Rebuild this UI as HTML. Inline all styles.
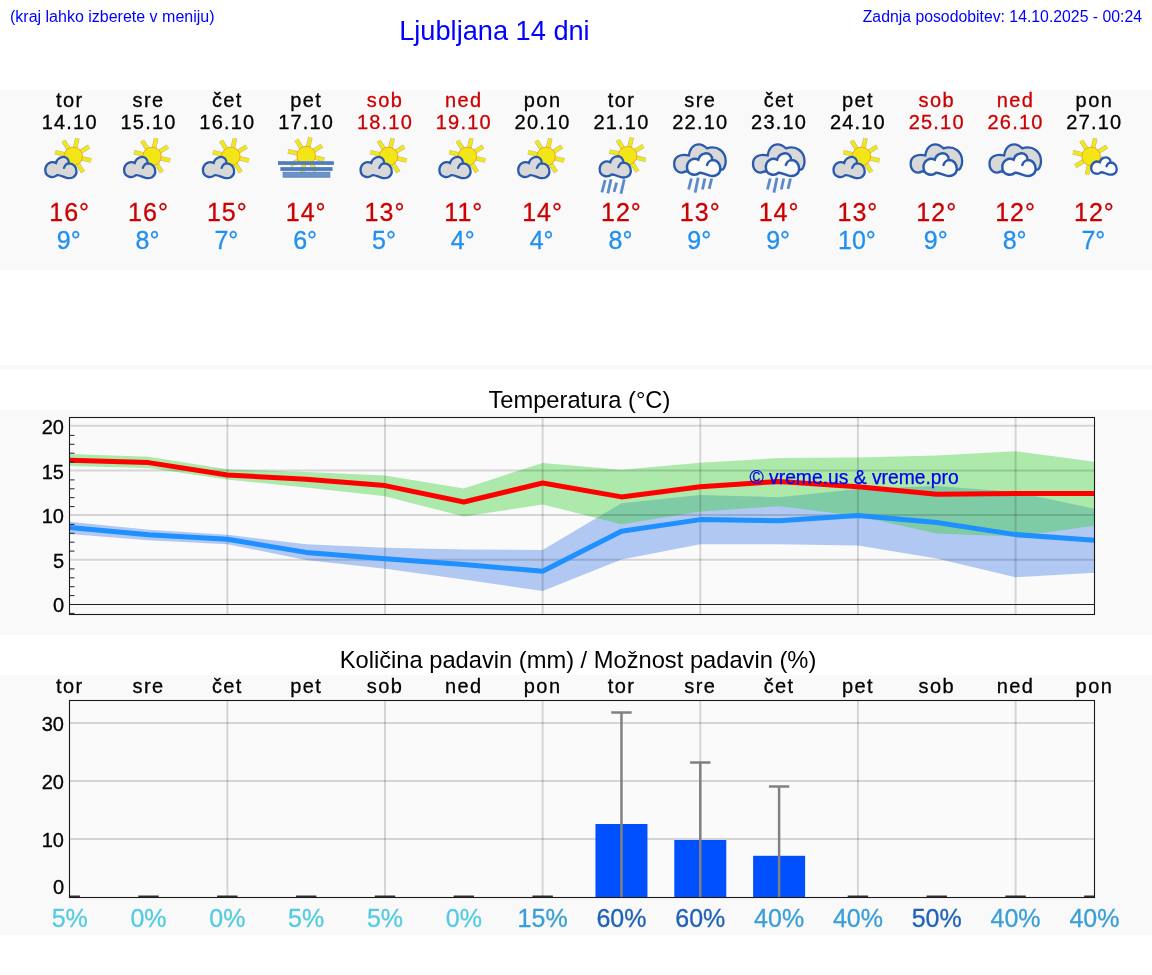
<!DOCTYPE html><html><head><meta charset="utf-8"><style>
html,body{margin:0;padding:0;background:#fff;}
body{width:1152px;height:975px;overflow:hidden;position:relative;font-family:"Liberation Sans", sans-serif;}
svg{position:absolute;left:0;top:0;will-change:transform;}
</style></head><body>
<svg width="1152" height="975" viewBox="0 0 1152 975" font-family='"Liberation Sans", sans-serif'>
<defs>
<g id="sun"><path d="M1.91 -8.28L4.18 -18.12M7.21 -4.50L15.77 -9.86M8.28 1.91L18.12 4.18M4.50 7.21L9.86 15.77M-1.91 8.28L-4.18 18.12M-7.21 4.50L-15.77 9.86M-8.28 -1.91L-18.12 -4.18M-4.50 -7.21L-9.86 -15.77" stroke="#8a8a78" stroke-width="4.6" stroke-linecap="butt" opacity="0.6"/><path d="M1.91 -8.28L4.18 -18.12M7.21 -4.50L15.77 -9.86M8.28 1.91L18.12 4.18M4.50 7.21L9.86 15.77M-1.91 8.28L-4.18 18.12M-7.21 4.50L-15.77 9.86M-8.28 -1.91L-18.12 -4.18M-4.50 -7.21L-9.86 -15.77" stroke="#f2e816" stroke-width="3.5" stroke-linecap="butt"/><circle r="9.25" fill="#f2e616" stroke="#f4a424" stroke-width="1"/></g>
<g id="cloudA"><path d="M-12.5 175.2 C-16.5 178.6,-24.4 177.2,-24.4 170 C-24.4 163.8,-18.5 160.5,-13.8 163.0 C-12.5 157.5,-6 155.3,-2.5 158.5 C-1.2 159.8,-0.6 161.5,-0.9 163.3 C4 163.2,6.8 167,6.8 171.8 C6.6 177,1.5 178.9,-3 177.9 C-6 177.2,-9.5 174.9,-12.5 175.2 Z" fill="#d8d8d8" stroke="#2a5aae" stroke-width="2.3"/><path d="M-5.7 167.9 C-4.5 164.8,-2 163.3,-0.6 163.4" fill="none" stroke="#2a5aae" stroke-width="2.3" stroke-linecap="round"/></g>
<g id="cloudW"><path d="M-12.5 175.2 C-16.5 178.6,-24.4 177.2,-24.4 170 C-24.4 163.8,-18.5 160.5,-13.8 163.0 C-12.5 157.5,-6 155.3,-2.5 158.5 C-1.2 159.8,-0.6 161.5,-0.9 163.3 C4 163.2,6.8 167,6.8 171.8 C6.6 177,1.5 178.9,-3 177.9 C-6 177.2,-9.5 174.9,-12.5 175.2 Z" fill="#fafafa" stroke="#2a5aae" stroke-width="2.3"/><path d="M-5.7 167.9 C-4.5 164.8,-2 163.3,-0.6 163.4" fill="none" stroke="#2a5aae" stroke-width="2.3" stroke-linecap="round"/></g>
<g id="cloudWs" transform="translate(16.77,28.6) scale(0.82)"><path d="M-12.5 175.2 C-16.5 178.6,-24.4 177.2,-24.4 170 C-24.4 163.8,-18.5 160.5,-13.8 163.0 C-12.5 157.5,-6 155.3,-2.5 158.5 C-1.2 159.8,-0.6 161.5,-0.9 163.3 C4 163.2,6.8 167,6.8 171.8 C6.6 177,1.5 178.9,-3 177.9 C-6 177.2,-9.5 174.9,-12.5 175.2 Z" fill="#fafafa" stroke="#2a5aae" stroke-width="2.8"/><path d="M-5.7 167.9 C-4.5 164.8,-2 163.3,-0.6 163.4" fill="none" stroke="#2a5aae" stroke-width="2.8" stroke-linecap="round"/></g>
<g id="cloudBack"><path d="M-14.8 171.3 C-19 174.3,-26.1 172,-26.1 163.5 C-26 157,-20 153.5,-11.5 155.5 C-10 145,-1.5 140.5,6.8 148.3 C17.5 145,25.4 152,25.4 161 C25.4 165,24.5 167.5,22.5 169.5 L10 172 Z" fill="#d8d8d8" stroke="#2a5aae" stroke-width="2.3"/></g>
</defs>
<rect x="0" y="90" width="1152" height="180" fill="#f9f9f9"/>
<rect x="0" y="365" width="1152" height="5" fill="#f9f9f9"/>
<rect x="0" y="410" width="1152" height="225" fill="#f9f9f9"/>
<rect x="0" y="675" width="1152" height="260" fill="#f9f9f9"/>
<text x="10" y="21.8" font-size="16" fill="#0000ff">(kraj lahko izberete v meniju)</text>
<text x="399.2" y="39.8" font-size="27.2" fill="#0000ff">Ljubljana 14 dni</text>
<text x="1142" y="22.1" font-size="15.8" fill="#0000ff" text-anchor="end">Zadnja posodobitev: 14.10.2025 - 00:24</text>
<text x="69.70" y="106.9" font-size="20" fill="#000000" stroke="#000000" stroke-width="0.3" text-anchor="middle" letter-spacing="1.4">tor</text>
<text x="69.70" y="128.9" font-size="20" fill="#000000" stroke="#000000" stroke-width="0.3" text-anchor="middle" letter-spacing="1.2">14.10</text>
<text x="69.70" y="221" font-size="25" fill="#cc0000" stroke="#cc0000" stroke-width="0.3" text-anchor="middle" letter-spacing="1">16°</text>
<text x="68.70" y="249" font-size="25" fill="#2090ef" stroke="#2090ef" stroke-width="0.3" text-anchor="middle">9°</text>
<text x="148.52" y="106.9" font-size="20" fill="#000000" stroke="#000000" stroke-width="0.3" text-anchor="middle" letter-spacing="1.4">sre</text>
<text x="148.52" y="128.9" font-size="20" fill="#000000" stroke="#000000" stroke-width="0.3" text-anchor="middle" letter-spacing="1.2">15.10</text>
<text x="148.52" y="221" font-size="25" fill="#cc0000" stroke="#cc0000" stroke-width="0.3" text-anchor="middle" letter-spacing="1">16°</text>
<text x="147.52" y="249" font-size="25" fill="#2090ef" stroke="#2090ef" stroke-width="0.3" text-anchor="middle">8°</text>
<text x="227.35" y="106.9" font-size="20" fill="#000000" stroke="#000000" stroke-width="0.3" text-anchor="middle" letter-spacing="1.4">čet</text>
<text x="227.35" y="128.9" font-size="20" fill="#000000" stroke="#000000" stroke-width="0.3" text-anchor="middle" letter-spacing="1.2">16.10</text>
<text x="227.35" y="221" font-size="25" fill="#cc0000" stroke="#cc0000" stroke-width="0.3" text-anchor="middle" letter-spacing="1">15°</text>
<text x="226.35" y="249" font-size="25" fill="#2090ef" stroke="#2090ef" stroke-width="0.3" text-anchor="middle">7°</text>
<text x="306.17" y="106.9" font-size="20" fill="#000000" stroke="#000000" stroke-width="0.3" text-anchor="middle" letter-spacing="1.4">pet</text>
<text x="306.17" y="128.9" font-size="20" fill="#000000" stroke="#000000" stroke-width="0.3" text-anchor="middle" letter-spacing="1.2">17.10</text>
<text x="306.17" y="221" font-size="25" fill="#cc0000" stroke="#cc0000" stroke-width="0.3" text-anchor="middle" letter-spacing="1">14°</text>
<text x="305.17" y="249" font-size="25" fill="#2090ef" stroke="#2090ef" stroke-width="0.3" text-anchor="middle">6°</text>
<text x="384.99" y="106.9" font-size="20" fill="#cc0000" stroke="#cc0000" stroke-width="0.3" text-anchor="middle" letter-spacing="1.4">sob</text>
<text x="384.99" y="128.9" font-size="20" fill="#cc0000" stroke="#cc0000" stroke-width="0.3" text-anchor="middle" letter-spacing="1.2">18.10</text>
<text x="384.99" y="221" font-size="25" fill="#cc0000" stroke="#cc0000" stroke-width="0.3" text-anchor="middle" letter-spacing="1">13°</text>
<text x="383.99" y="249" font-size="25" fill="#2090ef" stroke="#2090ef" stroke-width="0.3" text-anchor="middle">5°</text>
<text x="463.82" y="106.9" font-size="20" fill="#cc0000" stroke="#cc0000" stroke-width="0.3" text-anchor="middle" letter-spacing="1.4">ned</text>
<text x="463.82" y="128.9" font-size="20" fill="#cc0000" stroke="#cc0000" stroke-width="0.3" text-anchor="middle" letter-spacing="1.2">19.10</text>
<text x="463.82" y="221" font-size="25" fill="#cc0000" stroke="#cc0000" stroke-width="0.3" text-anchor="middle" letter-spacing="1">11°</text>
<text x="462.82" y="249" font-size="25" fill="#2090ef" stroke="#2090ef" stroke-width="0.3" text-anchor="middle">4°</text>
<text x="542.64" y="106.9" font-size="20" fill="#000000" stroke="#000000" stroke-width="0.3" text-anchor="middle" letter-spacing="1.4">pon</text>
<text x="542.64" y="128.9" font-size="20" fill="#000000" stroke="#000000" stroke-width="0.3" text-anchor="middle" letter-spacing="1.2">20.10</text>
<text x="542.64" y="221" font-size="25" fill="#cc0000" stroke="#cc0000" stroke-width="0.3" text-anchor="middle" letter-spacing="1">14°</text>
<text x="541.64" y="249" font-size="25" fill="#2090ef" stroke="#2090ef" stroke-width="0.3" text-anchor="middle">4°</text>
<text x="621.46" y="106.9" font-size="20" fill="#000000" stroke="#000000" stroke-width="0.3" text-anchor="middle" letter-spacing="1.4">tor</text>
<text x="621.46" y="128.9" font-size="20" fill="#000000" stroke="#000000" stroke-width="0.3" text-anchor="middle" letter-spacing="1.2">21.10</text>
<text x="621.46" y="221" font-size="25" fill="#cc0000" stroke="#cc0000" stroke-width="0.3" text-anchor="middle" letter-spacing="1">12°</text>
<text x="620.46" y="249" font-size="25" fill="#2090ef" stroke="#2090ef" stroke-width="0.3" text-anchor="middle">8°</text>
<text x="700.28" y="106.9" font-size="20" fill="#000000" stroke="#000000" stroke-width="0.3" text-anchor="middle" letter-spacing="1.4">sre</text>
<text x="700.28" y="128.9" font-size="20" fill="#000000" stroke="#000000" stroke-width="0.3" text-anchor="middle" letter-spacing="1.2">22.10</text>
<text x="700.28" y="221" font-size="25" fill="#cc0000" stroke="#cc0000" stroke-width="0.3" text-anchor="middle" letter-spacing="1">13°</text>
<text x="699.28" y="249" font-size="25" fill="#2090ef" stroke="#2090ef" stroke-width="0.3" text-anchor="middle">9°</text>
<text x="779.11" y="106.9" font-size="20" fill="#000000" stroke="#000000" stroke-width="0.3" text-anchor="middle" letter-spacing="1.4">čet</text>
<text x="779.11" y="128.9" font-size="20" fill="#000000" stroke="#000000" stroke-width="0.3" text-anchor="middle" letter-spacing="1.2">23.10</text>
<text x="779.11" y="221" font-size="25" fill="#cc0000" stroke="#cc0000" stroke-width="0.3" text-anchor="middle" letter-spacing="1">14°</text>
<text x="778.11" y="249" font-size="25" fill="#2090ef" stroke="#2090ef" stroke-width="0.3" text-anchor="middle">9°</text>
<text x="857.93" y="106.9" font-size="20" fill="#000000" stroke="#000000" stroke-width="0.3" text-anchor="middle" letter-spacing="1.4">pet</text>
<text x="857.93" y="128.9" font-size="20" fill="#000000" stroke="#000000" stroke-width="0.3" text-anchor="middle" letter-spacing="1.2">24.10</text>
<text x="857.93" y="221" font-size="25" fill="#cc0000" stroke="#cc0000" stroke-width="0.3" text-anchor="middle" letter-spacing="1">13°</text>
<text x="856.93" y="249" font-size="25" fill="#2090ef" stroke="#2090ef" stroke-width="0.3" text-anchor="middle">10°</text>
<text x="936.75" y="106.9" font-size="20" fill="#cc0000" stroke="#cc0000" stroke-width="0.3" text-anchor="middle" letter-spacing="1.4">sob</text>
<text x="936.75" y="128.9" font-size="20" fill="#cc0000" stroke="#cc0000" stroke-width="0.3" text-anchor="middle" letter-spacing="1.2">25.10</text>
<text x="936.75" y="221" font-size="25" fill="#cc0000" stroke="#cc0000" stroke-width="0.3" text-anchor="middle" letter-spacing="1">12°</text>
<text x="935.75" y="249" font-size="25" fill="#2090ef" stroke="#2090ef" stroke-width="0.3" text-anchor="middle">9°</text>
<text x="1015.58" y="106.9" font-size="20" fill="#cc0000" stroke="#cc0000" stroke-width="0.3" text-anchor="middle" letter-spacing="1.4">ned</text>
<text x="1015.58" y="128.9" font-size="20" fill="#cc0000" stroke="#cc0000" stroke-width="0.3" text-anchor="middle" letter-spacing="1.2">26.10</text>
<text x="1015.58" y="221" font-size="25" fill="#cc0000" stroke="#cc0000" stroke-width="0.3" text-anchor="middle" letter-spacing="1">12°</text>
<text x="1014.58" y="249" font-size="25" fill="#2090ef" stroke="#2090ef" stroke-width="0.3" text-anchor="middle">8°</text>
<text x="1094.40" y="106.9" font-size="20" fill="#000000" stroke="#000000" stroke-width="0.3" text-anchor="middle" letter-spacing="1.4">pon</text>
<text x="1094.40" y="128.9" font-size="20" fill="#000000" stroke="#000000" stroke-width="0.3" text-anchor="middle" letter-spacing="1.2">27.10</text>
<text x="1094.40" y="221" font-size="25" fill="#cc0000" stroke="#cc0000" stroke-width="0.3" text-anchor="middle" letter-spacing="1">12°</text>
<text x="1093.40" y="249" font-size="25" fill="#2090ef" stroke="#2090ef" stroke-width="0.3" text-anchor="middle">7°</text>
<g transform="translate(69.70,0)"><use href="#sun" x="3.5" y="156.4"/><use href="#cloudA"/></g>
<g transform="translate(148.52,0)"><use href="#sun" x="3.5" y="156.4"/><use href="#cloudA"/></g>
<g transform="translate(227.35,0)"><use href="#sun" x="3.5" y="156.4"/><use href="#cloudA"/></g>
<g transform="translate(306.17,0)"><use href="#sun" x="0" y="155.5"/><rect x="-28.2" y="161.2" width="55.9" height="3.7" fill="#4f7cbf"/><rect x="-25.8" y="167.1" width="52.2" height="3.8" fill="#4f7cbf"/><rect x="-23.1" y="172.2" width="46.8" height="5" fill="#6d93c6" stroke="#4f7cbf" stroke-width="0.8"/></g>
<g transform="translate(384.99,0)"><use href="#sun" x="3.5" y="156.4"/><use href="#cloudA"/></g>
<g transform="translate(463.82,0)"><use href="#sun" x="3.5" y="156.4"/><use href="#cloudA"/></g>
<g transform="translate(542.64,0)"><use href="#sun" x="3.5" y="156.4"/><use href="#cloudA"/></g>
<g transform="translate(624.06,-0.7)"><use href="#sun" x="3.5" y="156.4"/><use href="#cloudA"/></g>
<line x1="605.16" y1="180" x2="601.86" y2="192.4" stroke="#4a7cc4" stroke-width="2.8" stroke-opacity="0.9"/><line x1="611.06" y1="179.3" x2="607.86" y2="193.4" stroke="#4a7cc4" stroke-width="2.8" stroke-opacity="0.9"/><line x1="616.66" y1="182.6" x2="614.06" y2="191.8" stroke="#4a7cc4" stroke-width="2.8" stroke-opacity="0.9"/><line x1="624.26" y1="179.3" x2="620.96" y2="193.75" stroke="#4a7cc4" stroke-width="2.8" stroke-opacity="0.9"/>
<g transform="translate(700.28,0)"><use href="#cloudBack"/><g transform="translate(3.4,164.35) scale(1.07) translate(8.8,-167.35)"><use href="#cloudW"/></g></g>
<line x1="691.38" y1="178.5" x2="688.58" y2="189.5" stroke="#4a7cc4" stroke-width="2.8" stroke-opacity="0.9"/><line x1="698.18" y1="177.8" x2="695.08" y2="192.6" stroke="#4a7cc4" stroke-width="2.8" stroke-opacity="0.9"/><line x1="704.88" y1="178.5" x2="702.48" y2="189.5" stroke="#4a7cc4" stroke-width="2.8" stroke-opacity="0.9"/><line x1="711.68" y1="178.5" x2="709.18" y2="188.9" stroke="#4a7cc4" stroke-width="2.8" stroke-opacity="0.9"/>
<g transform="translate(779.11,0)"><use href="#cloudBack"/><g transform="translate(3.4,164.35) scale(1.07) translate(8.8,-167.35)"><use href="#cloudW"/></g></g>
<line x1="770.21" y1="178.5" x2="767.41" y2="189.5" stroke="#4a7cc4" stroke-width="2.8" stroke-opacity="0.9"/><line x1="777.01" y1="177.8" x2="773.91" y2="192.6" stroke="#4a7cc4" stroke-width="2.8" stroke-opacity="0.9"/><line x1="783.71" y1="178.5" x2="781.31" y2="189.5" stroke="#4a7cc4" stroke-width="2.8" stroke-opacity="0.9"/><line x1="790.51" y1="178.5" x2="788.01" y2="188.9" stroke="#4a7cc4" stroke-width="2.8" stroke-opacity="0.9"/>
<g transform="translate(857.93,0)"><use href="#sun" x="3.5" y="156.4"/><use href="#cloudA"/></g>
<g transform="translate(936.75,0)"><use href="#cloudBack"/><g transform="translate(3.4,164.35) scale(1.07) translate(8.8,-167.35)"><use href="#cloudW"/></g></g>
<g transform="translate(1015.58,0)"><use href="#cloudBack"/><g transform="translate(3.4,164.35) scale(1.07) translate(8.8,-167.35)"><use href="#cloudW"/></g></g>
<g transform="translate(1094.40,0)"><use href="#sun" x="-3.3" y="156.4"/><use href="#cloudWs"/></g>
<text x="579.4" y="407.8" font-size="23.7" fill="#000" text-anchor="middle">Temperatura (°C)</text>
<rect x="69.5" y="417.5" width="1025.0" height="197.0" fill="#fafafa"/>
<polygon points="69.70,521.80 148.52,529.80 227.35,534.80 306.17,544.20 384.99,547.70 463.82,549.60 542.64,550.00 621.46,503.20 700.28,495.00 779.11,497.30 857.93,489.10 936.75,486.00 1015.58,492.00 1094.40,508.70 1094.40,572.70 1015.58,577.20 936.75,558.50 857.93,545.40 779.11,544.20 700.28,544.20 621.46,559.40 542.64,591.00 463.82,579.40 384.99,568.80 306.17,560.00 227.35,544.30 148.52,540.30 69.70,534.00" fill="#417de6" fill-opacity="0.4"/>
<polygon points="69.70,454.00 148.52,456.80 227.35,469.30 306.17,472.00 384.99,475.50 463.82,488.40 542.64,462.90 621.46,469.70 700.28,462.70 779.11,458.00 857.93,457.50 936.75,455.50 1015.58,451.20 1094.40,461.80 1094.40,525.80 1015.58,536.50 936.75,533.50 857.93,516.00 779.11,506.20 700.28,511.40 621.46,524.30 542.64,504.40 463.82,516.60 384.99,496.20 306.17,487.50 227.35,479.50 148.52,468.00 69.70,466.00" fill="#37cf34" fill-opacity="0.4"/>
<line x1="69.5" y1="425.70" x2="1094.5" y2="425.70" stroke="#000" stroke-opacity="0.145" stroke-width="2"/>
<line x1="69.5" y1="470.40" x2="1094.5" y2="470.40" stroke="#000" stroke-opacity="0.145" stroke-width="2"/>
<line x1="69.5" y1="515.10" x2="1094.5" y2="515.10" stroke="#000" stroke-opacity="0.145" stroke-width="2"/>
<line x1="69.5" y1="559.80" x2="1094.5" y2="559.80" stroke="#000" stroke-opacity="0.145" stroke-width="2"/>
<line x1="227.35" y1="417.5" x2="227.35" y2="614.5" stroke="#000" stroke-opacity="0.145" stroke-width="2"/>
<line x1="384.99" y1="417.5" x2="384.99" y2="614.5" stroke="#000" stroke-opacity="0.145" stroke-width="2"/>
<line x1="542.64" y1="417.5" x2="542.64" y2="614.5" stroke="#000" stroke-opacity="0.145" stroke-width="2"/>
<line x1="700.28" y1="417.5" x2="700.28" y2="614.5" stroke="#000" stroke-opacity="0.145" stroke-width="2"/>
<line x1="857.93" y1="417.5" x2="857.93" y2="614.5" stroke="#000" stroke-opacity="0.145" stroke-width="2"/>
<line x1="1015.58" y1="417.5" x2="1015.58" y2="614.5" stroke="#000" stroke-opacity="0.145" stroke-width="2"/>
<line x1="69.5" y1="604.5" x2="1094.5" y2="604.5" stroke="#222" stroke-width="1.1"/>
<polyline points="69.70,527.60 148.52,534.80 227.35,539.30 306.17,552.40 384.99,558.70 463.82,564.60 542.64,571.20 621.46,531.30 700.28,519.60 779.11,520.80 857.93,515.60 936.75,522.50 1015.58,534.60 1094.40,540.20" fill="none" stroke="#1e90ff" stroke-width="5" stroke-linejoin="round"/>
<polyline points="69.70,460.30 148.52,462.60 227.35,475.00 306.17,479.30 384.99,485.60 463.82,502.00 542.64,483.00 621.46,496.90 700.28,486.80 779.11,481.40 857.93,486.80 936.75,494.30 1015.58,493.60 1094.40,493.50" fill="none" stroke="#ff0000" stroke-width="5" stroke-linejoin="round"/>
<text x="749.5" y="483.6" font-size="19.3" fill="#0000f0" stroke="#0000f0" stroke-width="0.25">© vreme.us &amp; vreme.pro</text>
<line x1="69.5" y1="613.40" x2="74.5" y2="613.40" stroke="#222" stroke-width="1"/>
<line x1="69.5" y1="595.60" x2="74.5" y2="595.60" stroke="#222" stroke-width="1"/>
<line x1="69.5" y1="586.70" x2="74.5" y2="586.70" stroke="#222" stroke-width="1"/>
<line x1="69.5" y1="577.80" x2="74.5" y2="577.80" stroke="#222" stroke-width="1"/>
<line x1="69.5" y1="568.90" x2="74.5" y2="568.90" stroke="#222" stroke-width="1"/>
<line x1="69.5" y1="551.10" x2="74.5" y2="551.10" stroke="#222" stroke-width="1"/>
<line x1="69.5" y1="542.20" x2="74.5" y2="542.20" stroke="#222" stroke-width="1"/>
<line x1="69.5" y1="533.30" x2="74.5" y2="533.30" stroke="#222" stroke-width="1"/>
<line x1="69.5" y1="524.40" x2="74.5" y2="524.40" stroke="#222" stroke-width="1"/>
<line x1="69.5" y1="506.60" x2="74.5" y2="506.60" stroke="#222" stroke-width="1"/>
<line x1="69.5" y1="497.70" x2="74.5" y2="497.70" stroke="#222" stroke-width="1"/>
<line x1="69.5" y1="488.80" x2="74.5" y2="488.80" stroke="#222" stroke-width="1"/>
<line x1="69.5" y1="479.90" x2="74.5" y2="479.90" stroke="#222" stroke-width="1"/>
<line x1="69.5" y1="462.10" x2="74.5" y2="462.10" stroke="#222" stroke-width="1"/>
<line x1="69.5" y1="453.20" x2="74.5" y2="453.20" stroke="#222" stroke-width="1"/>
<line x1="69.5" y1="444.30" x2="74.5" y2="444.30" stroke="#222" stroke-width="1"/>
<line x1="69.5" y1="435.40" x2="74.5" y2="435.40" stroke="#222" stroke-width="1"/>
<rect x="69.5" y="417.5" width="1025.0" height="197.0" fill="none" stroke="#1a1a1a" stroke-width="1.1"/>
<text x="64" y="434.10" font-size="20" fill="#000" stroke="#000" stroke-width="0.3" text-anchor="end">20</text>
<text x="64" y="478.60" font-size="20" fill="#000" stroke="#000" stroke-width="0.3" text-anchor="end">15</text>
<text x="64" y="523.10" font-size="20" fill="#000" stroke="#000" stroke-width="0.3" text-anchor="end">10</text>
<text x="64" y="567.60" font-size="20" fill="#000" stroke="#000" stroke-width="0.3" text-anchor="end">5</text>
<text x="64" y="612.10" font-size="20" fill="#000" stroke="#000" stroke-width="0.3" text-anchor="end">0</text>
<text x="578" y="667.9" font-size="23.7" fill="#000" text-anchor="middle">Količina padavin (mm) / Možnost padavin (%)</text>
<text x="69.70" y="692.8" font-size="20" fill="#000" stroke="#000" stroke-width="0.3" text-anchor="middle" letter-spacing="1.4">tor</text>
<text x="148.52" y="692.8" font-size="20" fill="#000" stroke="#000" stroke-width="0.3" text-anchor="middle" letter-spacing="1.4">sre</text>
<text x="227.35" y="692.8" font-size="20" fill="#000" stroke="#000" stroke-width="0.3" text-anchor="middle" letter-spacing="1.4">čet</text>
<text x="306.17" y="692.8" font-size="20" fill="#000" stroke="#000" stroke-width="0.3" text-anchor="middle" letter-spacing="1.4">pet</text>
<text x="384.99" y="692.8" font-size="20" fill="#000" stroke="#000" stroke-width="0.3" text-anchor="middle" letter-spacing="1.4">sob</text>
<text x="463.82" y="692.8" font-size="20" fill="#000" stroke="#000" stroke-width="0.3" text-anchor="middle" letter-spacing="1.4">ned</text>
<text x="542.64" y="692.8" font-size="20" fill="#000" stroke="#000" stroke-width="0.3" text-anchor="middle" letter-spacing="1.4">pon</text>
<text x="621.46" y="692.8" font-size="20" fill="#000" stroke="#000" stroke-width="0.3" text-anchor="middle" letter-spacing="1.4">tor</text>
<text x="700.28" y="692.8" font-size="20" fill="#000" stroke="#000" stroke-width="0.3" text-anchor="middle" letter-spacing="1.4">sre</text>
<text x="779.11" y="692.8" font-size="20" fill="#000" stroke="#000" stroke-width="0.3" text-anchor="middle" letter-spacing="1.4">čet</text>
<text x="857.93" y="692.8" font-size="20" fill="#000" stroke="#000" stroke-width="0.3" text-anchor="middle" letter-spacing="1.4">pet</text>
<text x="936.75" y="692.8" font-size="20" fill="#000" stroke="#000" stroke-width="0.3" text-anchor="middle" letter-spacing="1.4">sob</text>
<text x="1015.58" y="692.8" font-size="20" fill="#000" stroke="#000" stroke-width="0.3" text-anchor="middle" letter-spacing="1.4">ned</text>
<text x="1094.40" y="692.8" font-size="20" fill="#000" stroke="#000" stroke-width="0.3" text-anchor="middle" letter-spacing="1.4">pon</text>
<rect x="69.5" y="700.5" width="1025.0" height="197.0" fill="#fafafa"/>
<line x1="69.5" y1="722.90" x2="1094.5" y2="722.90" stroke="#000" stroke-opacity="0.145" stroke-width="2"/>
<line x1="69.5" y1="780.90" x2="1094.5" y2="780.90" stroke="#000" stroke-opacity="0.145" stroke-width="2"/>
<line x1="69.5" y1="838.90" x2="1094.5" y2="838.90" stroke="#000" stroke-opacity="0.145" stroke-width="2"/>
<line x1="227.35" y1="700.5" x2="227.35" y2="897.5" stroke="#000" stroke-opacity="0.145" stroke-width="2"/>
<line x1="384.99" y1="700.5" x2="384.99" y2="897.5" stroke="#000" stroke-opacity="0.145" stroke-width="2"/>
<line x1="542.64" y1="700.5" x2="542.64" y2="897.5" stroke="#000" stroke-opacity="0.145" stroke-width="2"/>
<line x1="700.28" y1="700.5" x2="700.28" y2="897.5" stroke="#000" stroke-opacity="0.145" stroke-width="2"/>
<line x1="857.93" y1="700.5" x2="857.93" y2="897.5" stroke="#000" stroke-opacity="0.145" stroke-width="2"/>
<line x1="1015.58" y1="700.5" x2="1015.58" y2="897.5" stroke="#000" stroke-opacity="0.145" stroke-width="2"/>
<rect x="595.46" y="824" width="52" height="73.50" fill="#0050ff"/>
<rect x="674.28" y="840" width="52" height="57.50" fill="#0050ff"/>
<rect x="753.11" y="855.8" width="52" height="41.70" fill="#0050ff"/>
<line x1="69.50" y1="896.3" x2="79.90" y2="896.3" stroke="#333" stroke-width="1.6"/>
<line x1="138.32" y1="896.3" x2="158.72" y2="896.3" stroke="#333" stroke-width="1.6"/>
<line x1="217.15" y1="896.3" x2="237.55" y2="896.3" stroke="#333" stroke-width="1.6"/>
<line x1="295.97" y1="896.3" x2="316.37" y2="896.3" stroke="#333" stroke-width="1.6"/>
<line x1="374.79" y1="896.3" x2="395.19" y2="896.3" stroke="#333" stroke-width="1.6"/>
<line x1="453.62" y1="896.3" x2="474.02" y2="896.3" stroke="#333" stroke-width="1.6"/>
<line x1="532.44" y1="896.3" x2="552.84" y2="896.3" stroke="#333" stroke-width="1.6"/>
<line x1="621.46" y1="712.5" x2="621.46" y2="897.5" stroke="#808080" stroke-width="2.5"/>
<line x1="611.26" y1="712.5" x2="631.66" y2="712.5" stroke="#808080" stroke-width="2.5"/>
<line x1="700.28" y1="762.5" x2="700.28" y2="897.5" stroke="#808080" stroke-width="2.5"/>
<line x1="690.08" y1="762.5" x2="710.48" y2="762.5" stroke="#808080" stroke-width="2.5"/>
<line x1="779.11" y1="786.5" x2="779.11" y2="897.5" stroke="#808080" stroke-width="2.5"/>
<line x1="768.91" y1="786.5" x2="789.31" y2="786.5" stroke="#808080" stroke-width="2.5"/>
<line x1="847.73" y1="896.3" x2="868.13" y2="896.3" stroke="#333" stroke-width="1.6"/>
<line x1="926.55" y1="896.3" x2="946.95" y2="896.3" stroke="#333" stroke-width="1.6"/>
<line x1="1005.38" y1="896.3" x2="1025.78" y2="896.3" stroke="#333" stroke-width="1.6"/>
<line x1="1084.20" y1="896.3" x2="1094.50" y2="896.3" stroke="#333" stroke-width="1.6"/>
<rect x="69.5" y="700.5" width="1025.0" height="197.0" fill="none" stroke="#1a1a1a" stroke-width="1.1"/>
<text x="64" y="731.00" font-size="20" fill="#000" stroke="#000" stroke-width="0.3" text-anchor="end">30</text>
<text x="64" y="789.00" font-size="20" fill="#000" stroke="#000" stroke-width="0.3" text-anchor="end">20</text>
<text x="64" y="847.00" font-size="20" fill="#000" stroke="#000" stroke-width="0.3" text-anchor="end">10</text>
<text x="64" y="893.50" font-size="20" fill="#000" stroke="#000" stroke-width="0.3" text-anchor="end">0</text>
<text x="69.70" y="927" font-size="25" fill="#55cbe2" stroke="#55cbe2" stroke-width="0.3" text-anchor="middle">5%</text>
<text x="148.52" y="927" font-size="25" fill="#55cbe2" stroke="#55cbe2" stroke-width="0.3" text-anchor="middle">0%</text>
<text x="227.35" y="927" font-size="25" fill="#55cbe2" stroke="#55cbe2" stroke-width="0.3" text-anchor="middle">0%</text>
<text x="306.17" y="927" font-size="25" fill="#55cbe2" stroke="#55cbe2" stroke-width="0.3" text-anchor="middle">5%</text>
<text x="384.99" y="927" font-size="25" fill="#55cbe2" stroke="#55cbe2" stroke-width="0.3" text-anchor="middle">5%</text>
<text x="463.82" y="927" font-size="25" fill="#55cbe2" stroke="#55cbe2" stroke-width="0.3" text-anchor="middle">0%</text>
<text x="542.64" y="927" font-size="25" fill="#3a9fd8" stroke="#3a9fd8" stroke-width="0.3" text-anchor="middle">15%</text>
<text x="621.46" y="927" font-size="25" fill="#1f62b8" stroke="#1f62b8" stroke-width="0.3" text-anchor="middle">60%</text>
<text x="700.28" y="927" font-size="25" fill="#1f62b8" stroke="#1f62b8" stroke-width="0.3" text-anchor="middle">60%</text>
<text x="779.11" y="927" font-size="25" fill="#3a9fd8" stroke="#3a9fd8" stroke-width="0.3" text-anchor="middle">40%</text>
<text x="857.93" y="927" font-size="25" fill="#3a9fd8" stroke="#3a9fd8" stroke-width="0.3" text-anchor="middle">40%</text>
<text x="936.75" y="927" font-size="25" fill="#1f62b8" stroke="#1f62b8" stroke-width="0.3" text-anchor="middle">50%</text>
<text x="1015.58" y="927" font-size="25" fill="#3a9fd8" stroke="#3a9fd8" stroke-width="0.3" text-anchor="middle">40%</text>
<text x="1094.40" y="927" font-size="25" fill="#3a9fd8" stroke="#3a9fd8" stroke-width="0.3" text-anchor="middle">40%</text>
</svg></body></html>
